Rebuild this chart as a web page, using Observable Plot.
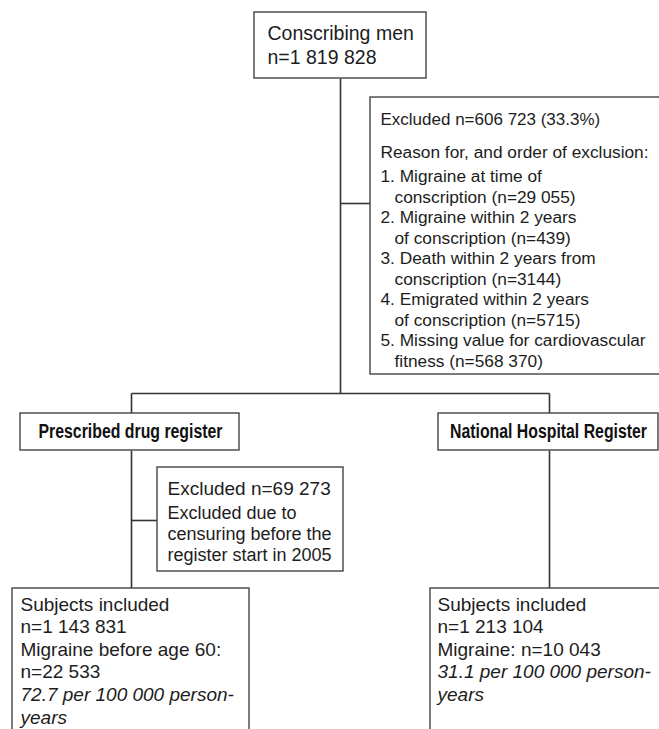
<!DOCTYPE html>
<html>
<head>
<meta charset="utf-8">
<script src="https://cdn.jsdelivr.net/npm/d3@7"></script>
<script src="https://cdn.jsdelivr.net/npm/@observablehq/plot@0.6"></script>
<style>
  html, body { margin: 0; padding: 0; background: #fff; overflow: hidden; }
  #chart svg { display: block; }
</style>
</head>
<body>
<div id="chart"></div>
<script>
// ---- Chart content (text of the flow diagram) ----
const sourceBox = ["Conscribing men", "n=1 819 828"];
const exclusionHeading = "Excluded n=606 723 (33.3%)";
const exclusionIntro = "Reason for, and order of exclusion:";
const exclusionNumbers = ["1.", "2.", "3.", "4.", "5."];
const exclusionReasons = [
  ["Migraine at time of", "conscription (n=29 055)"],
  ["Migraine within 2 years", "of conscription (n=439)"],
  ["Death within 2 years from", "conscription (n=3144)"],
  ["Emigrated within 2 years", "of conscription (n=5715)"],
  ["Missing value for cardiovascular", "fitness (n=568 370)"]
];
const registers = ["Prescribed drug register", "National Hospital Register"];
const drugExcludedHeading = "Excluded n=69 273";
const drugExcludedReason = ["Excluded due to", "censuring before the", "register start in 2005"];
const drugIncluded = ["Subjects included", "n=1 143 831", "Migraine before age 60:", "n=22 533"];
const drugRate = ["72.7 per 100 000 person-", "years"];
const hospitalIncluded = ["Subjects included", "n=1 213 104", "Migraine: n=10 043"];
const hospitalRate = ["31.1 per 100 000 person-", "years"];

// ---- Layout (diagram coordinates, px) ----
const W = 659, H = 729;
const boxes = [
  {x1: 254, x2: 426, y1: 12, y2: 78},     // source
  {x1: 370, x2: 672, y1: 97, y2: 374},    // exclusions
  {x1: 20,  x2: 239, y1: 413, y2: 450},   // drug register
  {x1: 438, x2: 658, y1: 413, y2: 450},   // hospital register
  {x1: 157, x2: 343, y1: 467, y2: 571},   // excluded 69 273
  {x1: 12,  x2: 249, y1: 588, y2: 745},   // drug included
  {x1: 430, x2: 672, y1: 588, y2: 745}    // hospital included
];
const links = [
  {x1: 340, y1: 78,  x2: 340, y2: 393},
  {x1: 340, y1: 203, x2: 370, y2: 203},
  {x1: 131, y1: 393, x2: 549, y2: 393},
  {x1: 131, y1: 393, x2: 131, y2: 413},
  {x1: 549, y1: 393, x2: 549, y2: 413},
  {x1: 131, y1: 450, x2: 131, y2: 588},
  {x1: 131, y1: 520, x2: 157, y2: 520},
  {x1: 549, y1: 450, x2: 549, y2: 588}
];

// regular text rows
const rows = [];
sourceBox.forEach((t, i) => rows.push({x: 267, y: 33 + i * 24, text: t, size: 19.5}));
rows.push({x: 380, y: 119, text: exclusionHeading, size: 17});
rows.push({x: 380, y: 152, text: exclusionIntro, size: 17.3});
{
  let yy = 176;
  const step = 20.5;
  exclusionReasons.forEach((pair, i) => {
    rows.push({x: 380, y: yy, text: exclusionNumbers[i] + " " + pair[0], size: 17.3});
    yy += step;
    rows.push({x: 394, y: yy, text: pair[1], size: 17.3});
    yy += step;
  });
}
rows.push({x: 167, y: 488, text: drugExcludedHeading, size: 19});
drugExcludedReason.forEach((t, i) => rows.push({x: 167, y: 513 + i * 21, text: t, size: 18}));
drugIncluded.forEach((t, i) => rows.push({x: 20, y: 604 + i * 22.6, text: t, size: 19}));
hospitalIncluded.forEach((t, i) => rows.push({x: 437, y: 604 + i * 22.6, text: t, size: 19}));

const italicRows = [];
drugRate.forEach((t, i) => italicRows.push({x: 20, y: 694.4 + i * 22.6, text: t}));
hospitalRate.forEach((t, i) => italicRows.push({x: 437, y: 671.8 + i * 22.6, text: t}));

const boldRows = [
  {x: 130, y: 431.5, text: registers[0], len: 184},
  {x: 548, y: 431.5, text: registers[1], len: 197}
];

const ink = "#1d1d1d";
const lineColor = "#333";
const font = "'Liberation Sans', Arial, Helvetica, sans-serif";

const chart = Plot.plot({
  width: W,
  height: H,
  margin: 0,
  x: {domain: [0, W], range: [0, W], axis: null},
  y: {domain: [0, H], range: [0, H], axis: null},
  style: {fontFamily: font, background: "#fff"},
  marks: [
    Plot.link(links, {x1: "x1", y1: "y1", x2: "x2", y2: "y2", stroke: lineColor, strokeWidth: 1.6}),
    Plot.rect(boxes, {x1: "x1", x2: "x2", y1: "y1", y2: "y2", fill: "#fff", stroke: "#444", strokeWidth: 1.4, clip: true}),
    Plot.text(rows, {x: "x", y: "y", text: "text", fontSize: d => d.size, textAnchor: "start", lineAnchor: "middle", fill: ink, fontFamily: font}),
    Plot.text(italicRows, {x: "x", y: "y", text: "text", fontSize: 19, fontStyle: "italic", textAnchor: "start", lineAnchor: "middle", fill: ink, fontFamily: font}),
    Plot.text(boldRows, {x: "x", y: "y", text: "text", fontSize: 19.5, fontWeight: "bold", textAnchor: "middle", lineAnchor: "middle", fill: "#111", fontFamily: font})
  ]
});
// condense the bold register labels (a condensed bold face in the original)
const byText = new Map(boldRows.map(d => [d.text, d.len]));
chart.querySelectorAll("text").forEach(el => {
  const len = byText.get(el.textContent);
  if (len != null) {
    el.setAttribute("textLength", len);
    el.setAttribute("lengthAdjust", "spacingAndGlyphs");
  }
});
document.getElementById("chart").appendChild(chart);
</script>
</body>
</html>
